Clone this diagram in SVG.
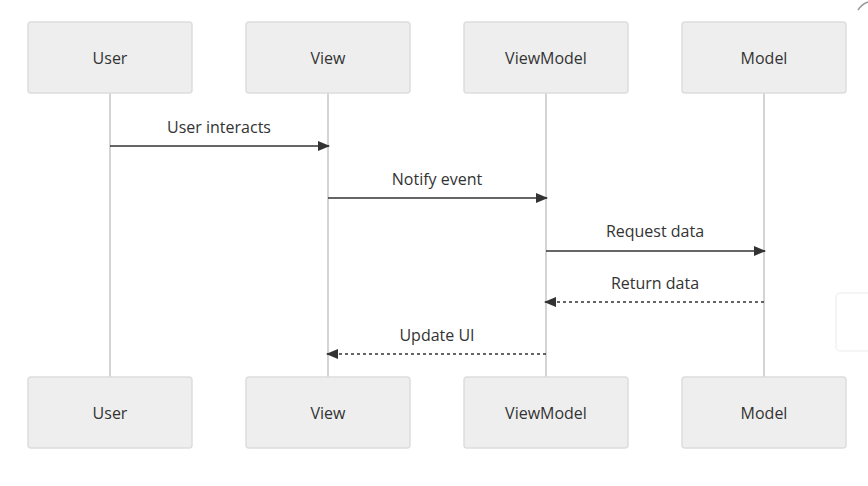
<svg xmlns="http://www.w3.org/2000/svg" width="868" height="486" viewBox="0 0 868 486">
<style>
.box{fill:#eeeeee;stroke:#dddddd;stroke-width:1.5}
.lbl{font-family:"Open Sans","Liberation Sans",sans-serif;font-size:16px;fill:#333;text-anchor:middle;dominant-baseline:central}
.life{stroke:#d4d4d4;stroke-width:2}
.msg{stroke:#333;stroke-width:1.5;fill:none}
.dash{stroke-dasharray:3,3}
.mtxt{font-family:"Open Sans","Liberation Sans",sans-serif;font-size:16px;fill:#333;text-anchor:middle}
</style>
<defs>
<marker id="ah" viewBox="0 0 12 10" refX="11" refY="5" markerWidth="12" markerHeight="10" markerUnits="userSpaceOnUse" orient="auto">
<path d="M0,0 L12,5 L0,10 Z" fill="#333"/>
</marker>
</defs>
<rect width="868" height="486" fill="#ffffff"/>
<g id="lifelines">
<line class="life" x1="110" y1="93" x2="110" y2="377"/>
<line class="life" x1="328" y1="93" x2="328" y2="377"/>
<line class="life" x1="546" y1="93" x2="546" y2="377"/>
<line class="life" x1="764" y1="93" x2="764" y2="377"/>
</g>
<g id="user-top"><rect class="box" x="28" y="22" width="164" height="71" rx="3"/><text class="lbl" x="110" y="57.5">User</text></g>
<g id="view-top"><rect class="box" x="246" y="22" width="164" height="71" rx="3"/><text class="lbl" x="328" y="57.5">View</text></g>
<g id="viewmodel-top"><rect class="box" x="464" y="22" width="164" height="71" rx="3"/><text class="lbl" x="546" y="57.5">ViewModel</text></g>
<g id="model-top"><rect class="box" x="682" y="22" width="164" height="71" rx="3"/><text class="lbl" x="764" y="57.5">Model</text></g>
<g id="user-bottom"><rect class="box" x="28" y="377" width="164" height="71" rx="3"/><text class="lbl" x="110" y="412.5">User</text></g>
<g id="view-bottom"><rect class="box" x="246" y="377" width="164" height="71" rx="3"/><text class="lbl" x="328" y="412.5">View</text></g>
<g id="viewmodel-bottom"><rect class="box" x="464" y="377" width="164" height="71" rx="3"/><text class="lbl" x="546" y="412.5">ViewModel</text></g>
<g id="model-bottom"><rect class="box" x="682" y="377" width="164" height="71" rx="3"/><text class="lbl" x="764" y="412.5">Model</text></g>
<g id="connectors">
<line class="msg" x1="110" y1="146" x2="329" y2="146" marker-end="url(#ah)"/>
<text class="mtxt" x="219" y="133">User interacts</text>
<line class="msg" x1="328" y1="198" x2="547" y2="198" marker-end="url(#ah)"/>
<text class="mtxt" x="437" y="185">Notify event</text>
<line class="msg" x1="546" y1="251" x2="765" y2="251" marker-end="url(#ah)"/>
<text class="mtxt" x="655" y="237">Request data</text>
<line class="msg dash" x1="764" y1="302" x2="545" y2="302" marker-end="url(#ah)"/>
<text class="mtxt" x="655" y="289">Return data</text>
<line class="msg dash" x1="546" y1="354" x2="327" y2="354" marker-end="url(#ah)"/>
<text class="mtxt" x="437" y="341">Update UI</text>
</g>
<g id="edge-artifacts">
<rect x="836" y="293" width="40" height="58" rx="4" fill="#ffffff" stroke="#f2f2f2" stroke-width="1.5"/>
<path d="M858,10 Q862,4 868,2" fill="none" stroke="#999" stroke-width="1.5"/>
</g>
</svg>
